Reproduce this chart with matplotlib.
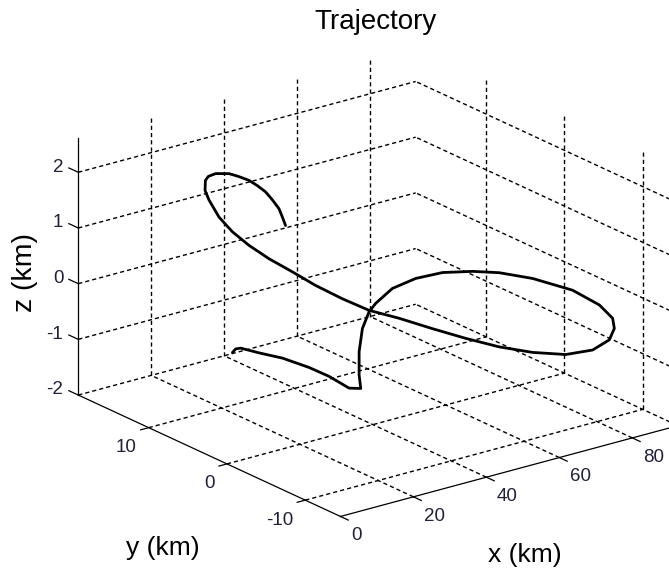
import numpy as np
import matplotlib
matplotlib.use("Agg")
import matplotlib.pyplot as plt
from mpl_toolkits.mplot3d import proj3d

plt.rcParams["font.family"] = ["Liberation Sans", "DejaVu Sans"]
plt.rcParams["lines.scale_dashes"] = False

# Flight path, km
x_km = [41.19, 41.67, 42.40, 44.01, 46.10, 47.84, 48.60, 48.50, 50.40,
        49.53, 49.10, 49.57, 50.77,
        51.51, 53.94, 57.76, 62.51, 67.95, 72.92, 78.84, 86.17, 90.71, 92.42,
        92.24, 90.01, 84.35, 75.72, 66.14,
        57.85, 51.48, 46.63, 42.87, 40.01, 38.05, 36.10, 35.08, 34.06, 33.51,
        33.23, 33.88, 34.36, 34.34,
        33.99, 33.52, 32.30, 31.68, 31.43, 31.36, 31.06, 30.97, 30.66, 30.35,
        29.75, 28.93]
y_km = [18.5, 18.3, 18.0, 16.4, 14.4, 11.8, 9.6, 7.0, 6.4,
        6.2, 6.0, 5.8, 5.5,
        5.0, 4.0, 2.8, 1.6, 0.3, -0.8, -2.3, -4.0, -5.3, -6.2,
        -6.5, -6.9, -7.4, -8.0, -8.2,
        -7.8, -6.5, -4.5, -2.0, 0.5, 3.0, 5.5, 8.0, 10.5, 12.8,
        14.8, 16.8, 18.3, 18.8,
        18.6, 18.0, 16.5, 14.5, 13.2, 11.8, 10.6, 9.5, 8.5, 7.5,
        6.8, 6.0]
z_km = [-1.93, -1.86, -1.84, -1.85, -1.85, -1.88, -1.91, -1.95, -1.95,
        -1.68, -1.24, -0.82, -0.52,
        -0.35, -0.06, 0.13, 0.23, 0.24, 0.20, 0.09, -0.14, -0.40, -0.61,
        -0.77, -0.91, -0.96, -0.85, -0.63,
        -0.41, -0.23, -0.10, -0.01, 0.02, 0.10, 0.21, 0.31, 0.40, 0.50,
        0.62, 0.74, 0.94, 1.08,
        1.28, 1.40, 1.57, 1.71, 1.75, 1.77, 1.76, 1.72, 1.65, 1.56,
        1.47, 1.38]

x_ticks = [0, 20, 40, 60, 80]
y_ticks = [-10, 0, 10]
z_ticks = [-2, -1, 0, 1, 2]
x_lim = (0.0, 92.5)
y_lim = (-14.5, 19.0)
z_lim = (-2.0, 2.62)

W, H = 669, 571
fig = plt.figure(figsize=(W / 100, H / 100), dpi=100)
fig.patch.set_facecolor("white")
ax = fig.add_subplot(projection="3d", proj_type="ortho")
ax.view_init(elev=20.67, azim=-127.32)
ax.set_box_aspect((423.4, 431.6, 274.4))
ax.set_xlim(*x_lim)
ax.set_ylim(*y_lim)
ax.set_zlim(*z_lim)
ax.set_xticks([])
ax.set_yticks([])
ax.set_zticks([])
ax.set_axis_off()

x0, x1 = x_lim
y0, y1 = y_lim
z0, z1 = z_lim

# dashed grid on the back wall, side wall and floor
grid_kw = dict(color="black", lw=1.0, linestyle="--", dashes=(3.0, 2.2),
               clip_on=False)
for xv in x_ticks[1:]:
    ax.plot([xv, xv], [y1, y1], [z0, z1], **grid_kw)
    ax.plot([xv, xv], [y0, y1], [z0, z0], **grid_kw)
for yv in y_ticks:
    ax.plot([x1, x1], [yv, yv], [z0, z1], **grid_kw)
    ax.plot([x0, x1], [yv, yv], [z0, z0], **grid_kw)
for zv in z_ticks:
    ax.plot([x0, x1], [y1, y1], [zv, zv], **grid_kw)
    ax.plot([x1, x1], [y0, y1], [zv, zv], **grid_kw)

# solid axis lines
axis_kw = dict(color="black", lw=0.9, clip_on=False)
ax.plot([x0, x0], [y1, y1], [z0, z1], **axis_kw)
ax.plot([x0, x0], [y0, y1], [z0, z0], **axis_kw)
ax.plot([x0, x1], [y0, y0], [z0, z0], **axis_kw)

# tick marks and tick labels
tick_col = "#20203a"
tick_fs = 13.5
for xv in x_ticks:
    ax.plot([xv, xv], [y0, y0 - 1.0], [z0, z0], **axis_kw)
    ax.text(xv, y0 - 1.34, z0 - 0.26, f"{xv:g}", ha="left", va="center",
            fontsize=tick_fs, color=tick_col, clip_on=False)
for yv in y_ticks:
    ax.plot([x0, x0 - 2.2], [yv, yv], [z0, z0], **axis_kw)
    ax.text(x0 - 3.3, yv, z0 - 0.30, f"{yv:g}", ha="right", va="center",
            fontsize=tick_fs, color=tick_col, clip_on=False)
for zv in z_ticks:
    ax.plot([x0, x0], [y1, y1 + 1.2], [zv, zv], **axis_kw)
    ax.text(x0, y1 + 1.91, zv - 0.03, f"{zv:g}", ha="right", va="center",
            fontsize=tick_fs, color=tick_col, clip_on=False)

# the trajectory itself
ax.plot(x_km, y_km, z_km, color="black", lw=2.0, clip_on=False,
        solid_joinstyle="round", solid_capstyle="round")


def place_box():
    """Scale and shift the 3-D axes so the plot box sits in its frame."""
    fig.canvas.draw()
    anchors = np.array([[x0, y1, z0], [x1, y1, 2.0], [x0, y0, z0],
                        [x0, y1, z1], [x0, y1, 2.0]])
    frame = np.array([[78.3, H - 395.0], [416.0, H - 82.3],
                      [340.0, H - 516.7], [78.3, H - 137.3],
                      [78.3, H - 171.7]])
    xs, ys, _ = proj3d.proj_transform(anchors[:, 0], anchors[:, 1],
                                      anchors[:, 2], ax.M)
    disp = ax.transData.transform(np.column_stack([xs, ys]))
    bb = ax.get_position()
    side = bb.width * W
    centre = np.array([(bb.x0 + bb.x1) / 2 * W, (bb.y0 + bb.y1) / 2 * H])
    q = (disp - centre) / side
    qm, fm = q.mean(0), frame.mean(0)
    s = ((q - qm) * (frame - fm)).sum() / ((q - qm) ** 2).sum()
    c = fm - s * qm
    ax.set_position([(c[0] - s / 2) / W, (c[1] - s / 2) / H, s / W, s / H])


place_box()
place_box()

fig.text(375.5 / W, 1 - 29.3 / H, "Trajectory", ha="center", va="baseline",
         fontsize=20, color="black")
fig.text(525 / W, 1 - 555 / H, "x (km)", ha="center", va="center",
         fontsize=19, color="black")
fig.text(162.5 / W, 1 - 548 / H, "y (km)", ha="center", va="center",
         fontsize=19, color="black")
fig.text(25 / W, 1 - 272 / H, "z (km)", ha="center", va="center",
         rotation=90, fontsize=20.5, color="black")

fig.savefig("out.png", dpi=100)
